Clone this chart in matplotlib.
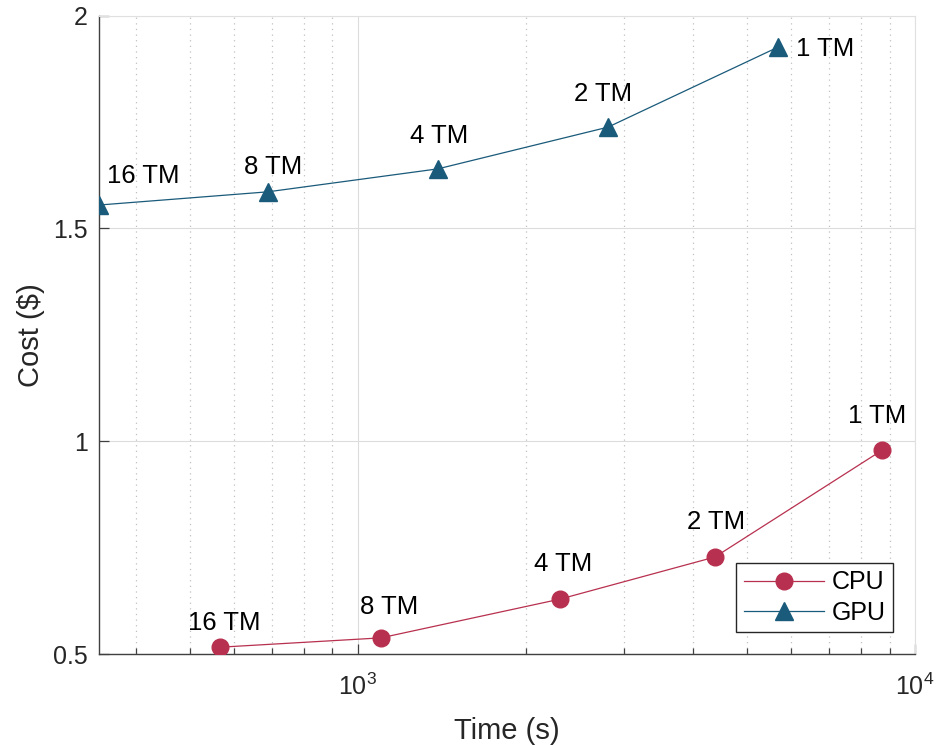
import matplotlib
matplotlib.use("Agg")
import numpy as np
import matplotlib.pyplot as plt
from matplotlib.ticker import LogLocator, FixedLocator, NullFormatter, FuncFormatter

plt.rcParams['font.family'] = ['Liberation Sans', 'DejaVu Sans']
plt.rcParams['mathtext.fontset'] = 'custom'
plt.rcParams['mathtext.rm'] = 'Liberation Sans'
plt.rcParams['mathtext.it'] = 'Liberation Sans'

# Data
labels = ["16 TM", "8 TM", "4 TM", "2 TM", "1 TM"]
cpu_time = [565, 1100, 2305, 4374, 8730]
cpu_cost = [0.516, 0.538, 0.629, 0.728, 0.979]
gpu_time = [343, 689, 1392, 2811, 5677]
gpu_cost = [1.555, 1.586, 1.640, 1.738, 1.926]
y_ticks = [0.5, 1, 1.5, 2]
y_ticklabels = ["0.5", "1", "1.5", "2"]

cpu_color = "#B8304F"
gpu_color = "#1A5A7A"
text_color = "#262626"

fig = plt.figure(figsize=(9.38, 7.45), dpi=100)
ax = fig.add_axes([0.1055, 0.1221, 0.87, 0.8569])

ax.plot(cpu_time, cpu_cost, '-o', color=cpu_color, lw=0.9, ms=12, label="CPU", zorder=3)
ax.plot(gpu_time, gpu_cost, '-^', color=gpu_color, lw=0.9, ms=13, label="GPU", zorder=3)

ax.set_xscale('log')
ax.set_xlim(gpu_time[0], 1e4)
ax.set_ylim(0.5, 2)
ax.yaxis.set_major_locator(FixedLocator(y_ticks))
ax.set_yticklabels(y_ticklabels)
ax.xaxis.set_major_locator(LogLocator(base=10, numticks=10))
ax.xaxis.set_major_formatter(FuncFormatter(lambda v, p: "10$^{%d}$" % int(round(np.log10(v)))))
ax.xaxis.set_minor_locator(LogLocator(base=10, subs=range(2, 10), numticks=20))
ax.xaxis.set_minor_formatter(NullFormatter())

ax.grid(True, which='major', color='#dcdcdc', lw=0.8, ls='-')
ax.grid(True, which='minor', axis='x', color='#c0c0c0', lw=0.9, ls=(0, (1, 3.5)))
ax.set_axisbelow(True)

for s in ['top', 'right']:
    ax.spines[s].set_color('#e0e0e0')
for s in ['left', 'bottom']:
    ax.spines[s].set_color('#404040')
    ax.spines[s].set_linewidth(1.0)

ax.tick_params(axis='both', which='both', direction='in', colors='#404040',
               labelcolor=text_color, labelsize=18, top=False, right=False)
ax.tick_params(axis='both', which='major', length=7, width=0.9)
ax.tick_params(axis='x', which='minor', length=4, width=0.9)
ax.tick_params(axis='x', which='major', pad=14)
ax.tick_params(axis='y', which='major', pad=8)

ax.set_xlabel("Time (s)", fontsize=21, color=text_color, labelpad=12)
ax.set_ylabel("Cost (\\$)", fontsize=21, color=text_color, labelpad=6)

cpu_offsets = [(5, 24), (8, 31), (3, 35), (1, 35), (-5, 34)]
gpu_offsets = [(44, 29), (5, 25), (1, 33), (-5, 33), (47, -2)]
for lab, x, y, off in zip(labels, cpu_time, cpu_cost, cpu_offsets):
    ax.annotate(lab, (x, y), xytext=off, textcoords='offset pixels',
                ha='center', va='center', fontsize=18.5, color='black')
for lab, x, y, off in zip(labels, gpu_time, gpu_cost, gpu_offsets):
    ax.annotate(lab, (x, y), xytext=off, textcoords='offset pixels',
                ha='center', va='center', fontsize=18.5, color='black')

leg = ax.legend(loc='lower right', bbox_to_anchor=(0.973, 0.0345), fontsize=18,
                frameon=True, fancybox=False, edgecolor='#262626', framealpha=1,
                handlelength=3.2, handletextpad=0.3, borderpad=0.3, labelspacing=0.25,
                borderaxespad=0)
leg.get_frame().set_linewidth(1.0)

fig.savefig("out.png", dpi=100)
